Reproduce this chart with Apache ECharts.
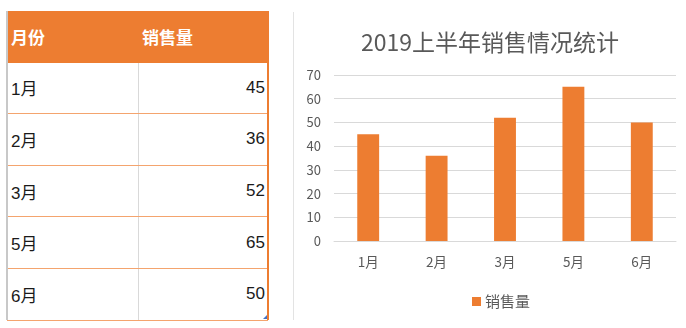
<!DOCTYPE html>
<html>
<head>
<meta charset="utf-8">
<script src="https://cdn.jsdelivr.net/npm/echarts@6/dist/echarts.min.js"></script>
<style>
  html, body { margin: 0; padding: 0; background: #fff; width: 686px; height: 328px; overflow: hidden; }
  #sheet { position: absolute; left: 7px; top: 11px; width: 261px; }
  .row { position: relative; height: 51.6px; box-sizing: border-box; }
  .cell { position: absolute; top: 0; bottom: 0; display: flex; align-items: center; box-sizing: border-box;
          font-family: 'Liberation Sans', 'Noto Sans CJK SC', sans-serif; font-size: 17px; color: #1a1a1a; }
  .c1 { left: 0; width: 131px; padding-left: 4px; }
  .c2 { left: 131px; width: 130px; padding-right: 3px; justify-content: flex-end; }
  .head { background: #ED7D31; }
  .head .cell { color: #fff; font-weight: bold; font-family: 'Noto Sans CJK SC', sans-serif; }
  .head .c2 { justify-content: flex-start; padding-left: 4px; }
  .body { border-bottom: 1.5px solid #F4A46E; }
  .body .c2 { border-left: 1.5px solid #d9d9d9; }
  #edgeL { position: absolute; left: 6px; top: 11px; width: 2px; height: 309px; background: #c8c8c8; }
  #edgeR { position: absolute; left: 267px; top: 11px; width: 1.5px; height: 309px; background: #ED7D31; }
  #corner { position: absolute; left: 263px; top: 315px; width: 0; height: 0;
            border-left: 4px solid transparent; border-bottom: 4px solid #4472C4; }
  #frame { position: absolute; left: 293px; top: 12px; width: 1px; height: 308px; background: #e3e3e3; }
  #chart { position: absolute; left: 294px; top: 0; width: 392px; height: 328px; }
</style>
</head>
<body>
<div id="sheet"></div>
<div id="edgeL"></div>
<div id="edgeR"></div>
<div id="corner"></div>
<div id="frame"></div>
<div id="chart"></div>
<script>
// Worksheet data
const headers = ['月份', '销售量'];
const months = ['1月', '2月', '3月', '5月', '6月'];
const sales = [45, 36, 52, 65, 50];
const yTicks = { min: 0, max: 70, step: 10 };
const chartTitle = '2019上半年销售情况统计';

// Build the table from the arrays
const sheet = document.getElementById('sheet');
function addRow(cls, a, b) {
  const r = document.createElement('div');
  r.className = 'row ' + cls;
  r.innerHTML = '<div class="cell c1">' + a + '</div><div class="cell c2">' + b + '</div>';
  sheet.appendChild(r);
}
addRow('head', headers[0], headers[1]);
months.forEach((m, i) => addRow('body', m, sales[i]));

// Column chart
const chart = echarts.init(document.getElementById('chart'), null, { renderer: 'canvas' });
const grey = '#595959';
const cjk = "'Noto Sans CJK SC', sans-serif";
chart.setOption({
  animation: false,
  title: {
    text: chartTitle,
    left: 'center',
    top: 26,
    textStyle: { fontFamily: cjk, fontSize: 23, fontWeight: 'normal', color: grey }
  },
  legend: {
    data: [headers[1]],
    left: 173,
    top: 289,
    icon: 'rect',
    itemWidth: 9,
    itemHeight: 9,
    itemGap: 4,
    textStyle: { fontFamily: cjk, fontSize: 15, color: grey, padding: [0, 0, 0, -1] }
  },
  grid: { left: 40, right: 10, top: 75, bottom: 87, containLabel: false },
  xAxis: {
    type: 'category',
    data: months,
    axisLine: { lineStyle: { color: '#d9d9d9' } },
    axisTick: { show: false },
    axisLabel: { fontFamily: cjk, fontSize: 13.5, color: grey, margin: 14 }
  },
  yAxis: {
    type: 'value',
    min: yTicks.min,
    max: yTicks.max,
    interval: yTicks.step,
    axisLine: { show: false },
    axisTick: { show: false },
    axisLabel: { fontFamily: cjk, fontSize: 13, color: grey, margin: 13 },
    splitLine: { lineStyle: { color: '#d9d9d9' } }
  },
  series: [{
    name: headers[1],
    type: 'bar',
    data: sales,
    barWidth: '32%',
    itemStyle: { color: '#ED7D31' }
  }]
});
</script>
</body>
</html>
